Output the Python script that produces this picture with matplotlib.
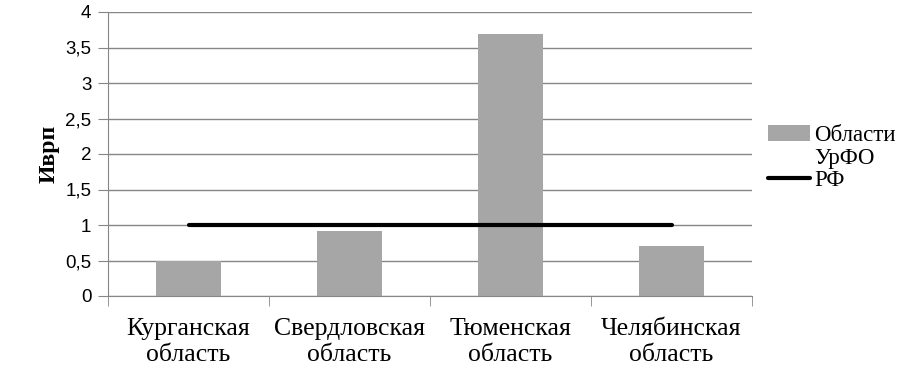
import numpy as np
import matplotlib
matplotlib.use("Agg")
import matplotlib.pyplot as plt
from matplotlib.ticker import FuncFormatter, FixedLocator
from matplotlib.lines import Line2D

regions = ["Курганская\nобласть", "Свердловская\nобласть", "Тюменская\nобласть", "Челябинская\nобласть"]
iv_regions = [0.5, 0.92, 3.69, 0.71]   # Области УрФО
iv_rf = [1, 1, 1, 1]                   # РФ

fig = plt.figure(figsize=(9.11, 3.73), dpi=100)
ax = fig.add_axes([108/911, 77/373, 644/911, 284/373])

x = np.arange(len(regions))
bars = ax.bar(x, iv_regions, width=0.4, color="#a6a6a6", zorder=2)
line, = ax.plot(x, iv_rf, color="black", lw=3, solid_capstyle="round", zorder=3)

ax.set_xlim(-0.5, len(regions) - 0.5)
ax.set_ylim(0, 4)
ax.set_yticks(np.arange(0, 4.01, 0.5))
ax.yaxis.set_major_formatter(FuncFormatter(lambda v, p: ("%g" % v).replace(".", ",")))
ax.grid(axis="y", color="#868686", lw=1)
ax.set_axisbelow(True)

ax.set_xticks(x)
ax.set_xticklabels(regions, family="Liberation Serif", fontsize=18.5, linespacing=1.25)
ax.tick_params(axis="x", length=0, pad=16)
ax.xaxis.set_minor_locator(FixedLocator(np.arange(-0.5, len(regions), 1)))
ax.tick_params(axis="x", which="minor", length=7, color="#868686")
ax.tick_params(axis="y", length=7, color="#868686", labelsize=13.5, pad=5)
for lab in ax.get_yticklabels():
    lab.set_family("Liberation Sans")

for s in ["top", "right"]:
    ax.spines[s].set_visible(False)
ax.spines["left"].set_color("#868686")
ax.spines["bottom"].set_color("#868686")

ax.set_ylabel("Иврп", family="Liberation Serif", fontweight="bold", fontsize=17, labelpad=4)

# legend: bar label wraps onto a second line, like the original
blank = Line2D([], [], color="none")
ax.legend([bars, blank, line], ["Области", "УрФО", "РФ"],
          loc="upper left", bbox_to_anchor=(1.011, 0.633), frameon=False,
          prop={"family": "Liberation Serif", "size": 16.5}, handlelength=1.8,
          handletextpad=0.2, labelspacing=0.05, borderaxespad=0)

fig.savefig("out.png")
